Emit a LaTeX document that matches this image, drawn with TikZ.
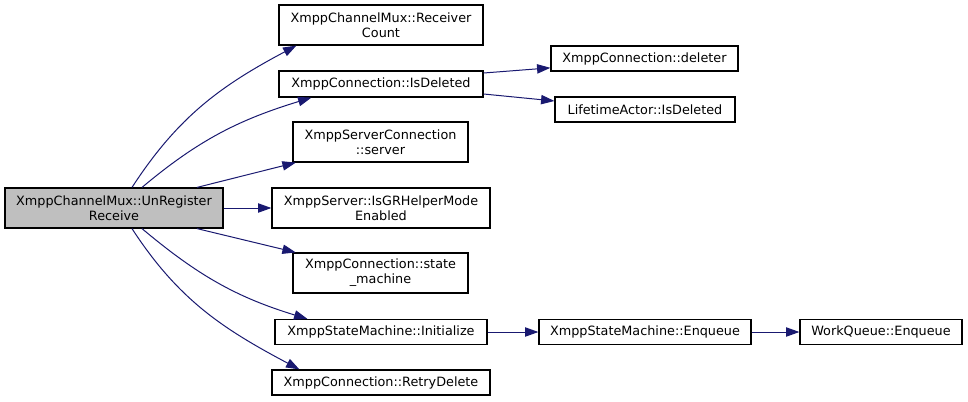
\documentclass[tikz,border=0pt]{standalone}
\usepackage{fontspec}
\setmainfont{DejaVu Sans}
\usetikzlibrary{arrows.meta,positioning}
\definecolor{edgeblue}{HTML}{191970}
\definecolor{rootgray}{HTML}{BFBFBF}

\begin{document}
\begin{tikzpicture}[
      x=0.75pt, y=-0.75pt, % one unit is one pixel of the graph
      fn/.style={
          rectangle,
          draw=black,
          fill=white,
          line width=0.9pt,
          align=center,
          inner sep=0pt,
          font=\fontsize{9.6pt}{11.3pt}\selectfont
      },
      rootfn/.style={fn, fill=rootgray},
      call/.style={-{Triangle[length=10pt,width=7pt]}, line width=0.75pt, draw=edgeblue}
  ]
      \useasboundingbox (0,0) rectangle (968,401);

      % Nodes
      \node (root) [rootfn, minimum width=163.5pt, minimum height=30pt] at (114,208) {XmppChannelMux::UnRegister\\Receive};
      \node (count) [fn, minimum width=153pt, minimum height=30pt] at (381,25) {XmppChannelMux::Receiver\\Count};
      \node (isdel) [fn, minimum width=153pt, minimum height=19.5pt] at (381,84) {XmppConnection::IsDeleted};
      \node (server) [fn, minimum width=131.25pt, minimum height=30pt] at (380.5,142) {XmppServerConnection\\::server};
      \node (grhelper) [fn, minimum width=163.5pt, minimum height=30pt] at (381,208) {XmppServer::IsGRHelperMode\\Enabled};
      \node (statem) [fn, minimum width=131.25pt, minimum height=30pt] at (380.5,273) {XmppConnection::state\\\_machine};
      \node (init) [fn, minimum width=159pt, minimum height=18.75pt] at (381,332) {XmppStateMachine::Initialize};
      \node (retry) [fn, minimum width=163.5pt, minimum height=18.75pt] at (381,382.5) {XmppConnection::RetryDelete};
      \node (deleter) [fn, minimum width=140.25pt, minimum height=18.75pt] at (644.5,58.5) {XmppConnection::deleter};
      \node (lifetime) [fn, minimum width=135pt, minimum height=18.75pt] at (645,109.5) {LifetimeActor::IsDeleted};
      \node (smenq) [fn, minimum width=159pt, minimum height=18.75pt] at (645,332) {XmppStateMachine::Enqueue};
      \node (wqenq) [fn, minimum width=121.5pt, minimum height=18.75pt] at (881,332) {WorkQueue::Enqueue};

      % Calls
      \draw [call] ([xshift=13.5pt]root.north) to[out=57, in=208] ([xshift=13.5pt]count.south west);
      \draw [call] ([xshift=21pt]root.north) to[out=40, in=197] ([xshift=24.75pt]isdel.south west);
      \draw [call] ([xshift=62.25pt]root.north) -- ([xshift=2.5pt]server.south west);
      \draw [call] (root) -- (grhelper);
      \draw [call] ([xshift=62.25pt]root.south) -- ([xshift=2.5pt]statem.north west);
      \draw [call] ([xshift=21pt]root.south) to[out=-40, in=163] ([xshift=24.75pt]init.north west);
      \draw [call] ([xshift=13.5pt]root.south) to[out=-57, in=152] ([xshift=21pt]retry.north west);
      \draw [call] ([yshift=8.25pt]isdel.east) -- ([yshift=-7pt]deleter.west);
      \draw [call] ([yshift=-7.5pt]isdel.east) -- ([yshift=6.4pt]lifetime.west);
      \draw [call] (init) -- (smenq);
      \draw [call] (smenq) -- (wqenq);
  \end{tikzpicture}
\end{document}
